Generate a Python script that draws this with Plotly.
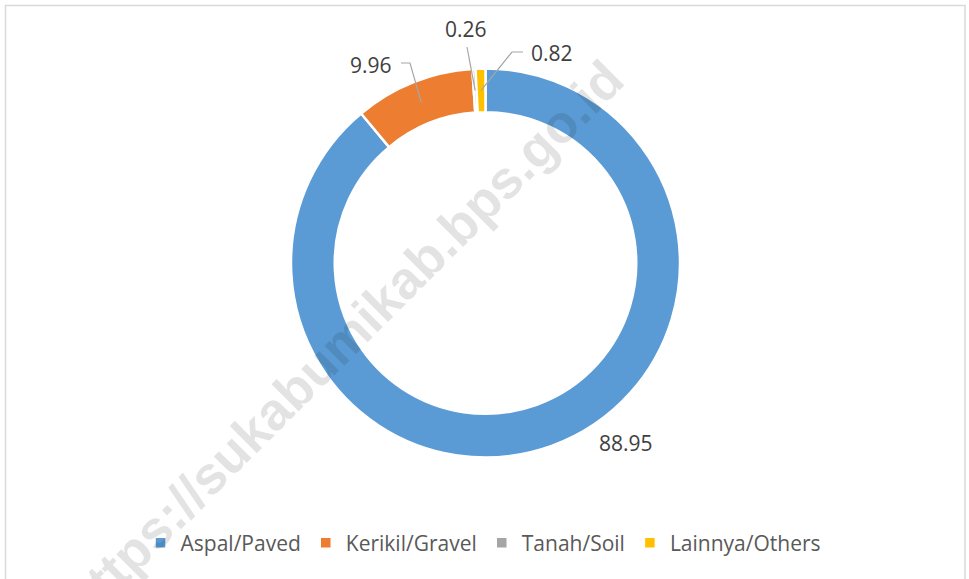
import math
import plotly.graph_objects as go

# ---- data ----
categories = ["Aspal/Paved", "Kerikil/Gravel", "Tanah/Soil", "Lainnya/Others"]
values = [88.95, 9.96, 0.26, 0.82]
label_texts = ["88.95", "9.96", "0.26", "0.82"]
colors = ["#5B9BD5", "#ED7D31", "#A5A5A5", "#FFC000"]

W, H = 969, 579
CX, CY, R_OUT = 485.5, 263.0, 194.5
HOLE = 0.775


def px(x):
    return x / W


def py(y):
    return 1 - y / H


fig = go.Figure()
fig.add_trace(go.Pie(
    labels=categories,
    values=values,
    sort=False,
    direction="clockwise",
    rotation=0,
    hole=HOLE,
    marker=dict(colors=colors, line=dict(color="white", width=2.5)),
    textinfo="none",
    domain=dict(x=[(CX * 2 - W) / W, 1.0],
                y=[py(CY + R_OUT), py(CY - R_OUT)]),
))

# label placement (layout): text centre and optional elbow point
label_pos = [(625.5, 442.5, None), (371, 65, (410, 63)), (466, 29, (467, 47)), (552, 53, (512, 52))]
label_start = [None, (401, 63), None, (523, 52)]

total = sum(values)
cum = 0.0
shapes = []
annotations = []
r_mid = (R_OUT + R_OUT * HOLE) / 2
for i, v in enumerate(values):
    mid = (cum + v / 2) / total * 360.0
    cum += v
    ex = CX + r_mid * math.sin(math.radians(mid))
    ey = CY - r_mid * math.cos(math.radians(mid))
    tx, ty, elbow = label_pos[i]
    annotations.append(dict(x=px(tx), y=py(ty), xref="paper", yref="paper",
                            text=label_texts[i], showarrow=False,
                            font=dict(family="Open Sans", size=21, color="#404040"),
                            xanchor="center", yanchor="middle"))
    if elbow is not None:
        pts = []
        if label_start[i] is not None:
            pts.append(label_start[i])
        pts.append(elbow)
        pts.append((ex, ey))
        path = "M " + " L ".join(f"{px(a)},{py(b)}" for a, b in pts)
        shapes.append(dict(type="path", path=path, xref="paper", yref="paper",
                           line=dict(color="#A6A6A6", width=1.2)))

# chart border
shapes.append(dict(type="rect", xref="paper", yref="paper",
                   x0=px(5.5), x1=px(965), y0=-0.05, y1=py(5.5),
                   line=dict(color="#D9D9D9", width=1.5), fillcolor="rgba(0,0,0,0)"))

# watermark
annotations.append(dict(x=px(343), y=py(340), xref="paper", yref="paper",
                        text="<b>https://sukabumikab.bps.go.id</b>", showarrow=False,
                        textangle=-45,
                        font=dict(family="Liberation Sans", size=53, color="rgba(0,0,0,0.11)"),
                        xanchor="center", yanchor="middle"))

fig.update_layout(
    width=W, height=H,
    margin=dict(l=0, r=0, t=0, b=0),
    paper_bgcolor="white",
    plot_bgcolor="white",
    showlegend=True,
    legend=dict(orientation="h", x=0.499, xanchor="center", y=py(543), yanchor="middle",
                font=dict(family="Open Sans", size=21, color="#595959"),
                itemclick=False, itemdoubleclick=False, bgcolor="rgba(0,0,0,0)"),
    shapes=shapes,
    annotations=annotations,
)

fig.write_html("out.html", config={"displayModeBar": False},
               post_script="document.body.style.margin='0';")
